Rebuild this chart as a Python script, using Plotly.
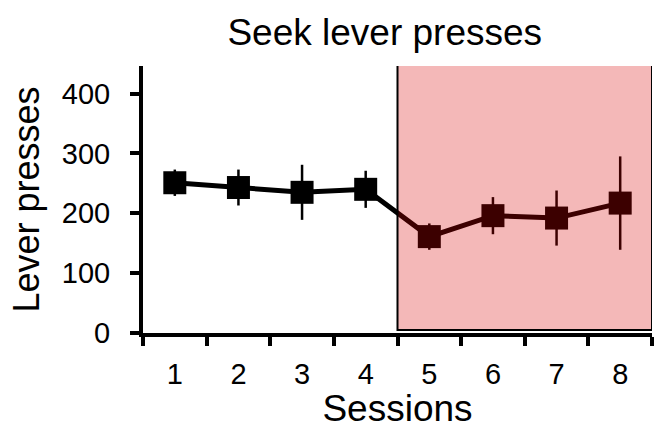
import plotly.graph_objects as go

sessions = ["1", "2", "3", "4", "5", "6", "7", "8"]
presses = [251, 243, 235, 240, 161, 196, 192, 217]
errors = [22, 30, 46, 31, 22, 31, 46, 78]
shaded_sessions = ["5", "6", "7", "8"]
y_ticks = [0, 100, 200, 300, 400]

font = "Liberation Sans, Arial, sans-serif"

fig = go.Figure()
fig.add_trace(go.Scatter(
    x=sessions, y=presses,
    mode="lines+markers",
    line=dict(color="black", width=5),
    marker=dict(symbol="square", size=23, color="black"),
    error_y=dict(type="data", array=errors, visible=True, color="black", thickness=2.5, width=0),
    showlegend=False,
))

i0 = sessions.index(shaded_sessions[0]) - 0.5
i1 = sessions.index(shaded_sessions[-1]) + 0.5
fig.add_shape(type="rect", xref="x", yref="y", x0=i0, x1=i1, y0=5, y1=452,
              fillcolor="rgba(215,0,0,0.28)", line=dict(color="black", width=2), layer="above")

fig.update_layout(
    width=654, height=429,
    margin=dict(l=143, r=2, t=66, b=96),
    paper_bgcolor="white", plot_bgcolor="white",
    font=dict(family=font, color="black", size=29),
    title=dict(text="Seek lever presses", x=0.475, xref="paper", y=0.925, yref="container",
               xanchor="center", yanchor="middle", font=dict(size=37)),
)
fig.update_xaxes(
    type="category", range=[-0.5, len(sessions) - 0.5],
    tickson="boundaries", ticks="outside", ticklen=9, tickwidth=4, tickcolor="black",
    showline=True, linecolor="black", linewidth=4, showgrid=False, zeroline=False,
    tickfont=dict(size=29), ticklabelstandoff=12,
    title=dict(text="Sessions", font=dict(size=37), standoff=2),
)
fig.update_yaxes(
    range=[0, 446], tickvals=y_ticks, ticks="outside", ticklen=9, tickwidth=4, tickcolor="black",
    showline=True, linecolor="black", linewidth=4, showgrid=False, zeroline=False,
    tickfont=dict(size=29), ticklabelstandoff=14,
    title=dict(text="Lever presses", font=dict(size=36), standoff=12),
)

fig.write_html("out.html")
